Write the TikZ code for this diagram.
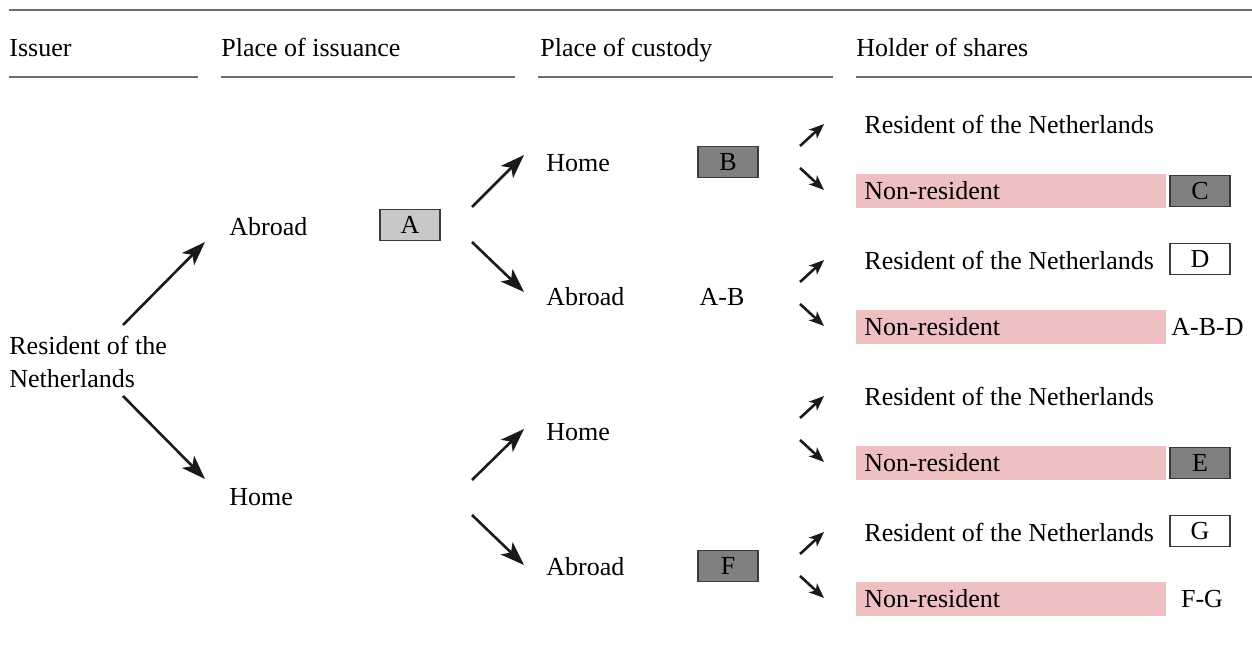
\documentclass[tikz,border=0pt]{standalone}
\usepackage{fontspec}
\setmainfont{Liberation Serif}
\usetikzlibrary{arrows.meta}
\usetikzlibrary{positioning}

\definecolor{rulegrey}{HTML}{6E6E6E}
\definecolor{lightbox}{HTML}{C8C8C9}
\definecolor{darkbox}{HTML}{808080}
\definecolor{boxline}{HTML}{3A3A3A}
\definecolor{nonrespink}{HTML}{EFC0C1}
\definecolor{arrowink}{HTML}{1A1A1A}

\tikzset{
  lbl/.style={anchor=west, inner sep=0pt, font=\fontsize{13}{16.5}\selectfont},
  tag/.style={inner sep=0pt, font=\fontsize{13}{16.5}\selectfont},
  codebox/.style={draw=boxline, line width=0.7pt, minimum width=30pt, minimum height=15.5pt,
    inner sep=0pt, font=\fontsize{13}{16.5}\selectfont},
  lightcode/.style={codebox, fill=lightbox},
  darkcode/.style={codebox, fill=darkbox},
  whitecode/.style={codebox, fill=white},
  pinkbar/.style={anchor=west, fill=nonrespink, text width=147pt, inner xsep=4pt, inner ysep=0pt,
    minimum height=17pt, align=left, font=\fontsize{13}{16.5}\selectfont},
  headrule/.style={draw=rulegrey, line width=1pt},
  bigarrow/.style={draw=arrowink, line width=1.3pt,
    -{Stealth[length=12pt,width=8.5pt,inset=3pt]}},
  smallarrow/.style={draw=arrowink, line width=1.3pt,
    -{Stealth[length=7.5pt,width=6pt,inset=2pt]}}
}

\begin{document}
\begin{tikzpicture}[x=0.5pt,y=-0.5pt]
\useasboundingbox (0,0) rectangle (1252,662);

% header
\draw[headrule] (9,10) -- (1252,10);
\node[lbl, anchor=base west] (hIssuer) at (9,57) {Issuer};
\node[lbl, anchor=base west] (hIssuance) at (221,57) {Place of issuance};
\node[lbl, anchor=base west] (hCustody) at (540,57) {Place of custody};
\node[lbl, anchor=base west] (hHolder) at (856,57) {Holder of shares};
\draw[headrule] (9,77) -- (198,77);
\draw[headrule] (221,77) -- (515,77);
\draw[headrule] (538,77) -- (833,77);
\draw[headrule] (856,77) -- (1252,77);

% issuer and place of issuance
\node[lbl, align=left] (issuer) at (9,362) {Resident of the\\Netherlands};
\node[lbl] (issAbroad) at (229,227) {Abroad};
\node[lbl] (issHome) at (229,497) {Home};
\node[lightcode] (boxA) at (410,225) {A};

\coordinate (upStart) at (123,325);
\coordinate (upTip) at (205,242);
\coordinate (dnStart) at (123,396);
\coordinate (dnTip) at (205,479);
\draw[bigarrow] (upStart) -- (upTip);
\draw[bigarrow] (dnStart) -- (dnTip);

% place of custody
\node[lbl] (cust1) at (546,163) {Home};
\node[lbl] (cust2) at (546,297) {Abroad};
\node[lbl] (cust3) at (546,432) {Home};
\node[lbl] (cust4) at (546,567) {Abroad};
\node[darkcode] (boxB) at (728,162) {B};
\node[tag] (tagAB) at (722,297) {A-B};
\node[darkcode] (boxF) at (728,566) {F};

\foreach \ys/\yt [count=\i] in {207/155,242/292,480/429,515/565}{
  \coordinate (cs\i) at (472,\ys);
  \coordinate (ct\i) at (524,\yt);
  \draw[bigarrow] (cs\i) -- (ct\i);
}

% holder of shares
\foreach \k in {0,1,2,3}{
  \node[lbl] (res\k) at (864,124+136*\k) {Resident of the Netherlands};
  \node[pinkbar] (non\k) at (856,191+136*\k) {Non-resident};
  \coordinate (hus\k) at (800,146+136*\k);
  \coordinate (hut\k) at (824,124+136*\k);
  \coordinate (hds\k) at (800,168+136*\k);
  \coordinate (hdt\k) at (824,190+136*\k);
  \draw[smallarrow] (hus\k) -- (hut\k);
  \draw[smallarrow] (hds\k) -- (hdt\k);
}
\node[darkcode] (boxC) at (1200,191) {C};
\node[whitecode] (boxD) at (1200,259) {D};
\node[tag, anchor=west] (tagABD) at (1171,327) {A-B-D};
\node[darkcode] (boxE) at (1200,463) {E};
\node[whitecode] (boxG) at (1200,531) {G};
\node[tag] (tagFG) at (1202,599) {F-G};
\end{tikzpicture}
\end{document}
